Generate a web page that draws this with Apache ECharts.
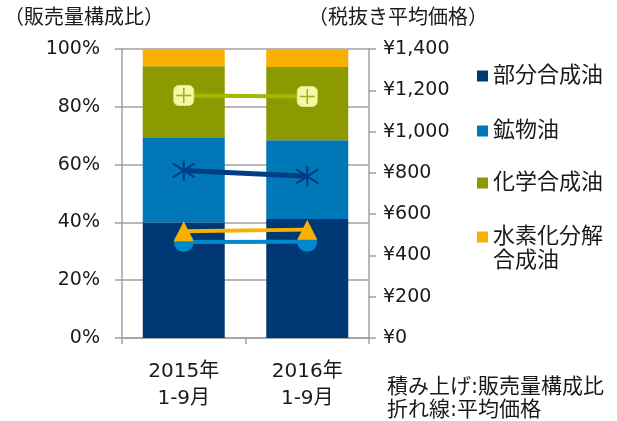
<!DOCTYPE html>
<html>
<head>
<meta charset="utf-8">
<script src="https://cdn.jsdelivr.net/npm/echarts@6/dist/echarts.min.js"></script>
<style>
html,body{margin:0;padding:0;background:#fff;}
#chart{width:617px;height:421px;}
</style>
</head>
<body>
<div id="chart"></div>
<script>
// ---- data ----
const categories = ['2015年\n1-9月', '2016年\n1-9月'];
const seriesNames = ['部分合成油', '鉱物油', '化学合成油', '水素化分解合成油'];
// stacked share (%)
const shareSemiSynthetic = [40.0, 41.2];
const shareMineral = [29.2, 27.2];
const shareSynthetic = [24.8, 25.4];
const shareHydrocracked = [6.0, 6.2];
// average price excl. tax (yen)
const priceSynthetic = [1175, 1170];
const priceSemiSynthetic = [812, 783];
const priceHydrocracked = [517, 525];
const priceMineral = [465, 466];
// tick labels
const leftTicks = [0, 20, 40, 60, 80, 100];
const rightTicks = [0, 200, 400, 600, 800, 1000, 1200, 1400];
const titleLeft = '（販売量構成比）';
const titleRight = '（税抜き平均価格）';
const noteText = '積み上げ:販売量構成比\n折れ線:平均価格';

const FONT = "'DejaVu Sans', 'Noto Sans CJK JP', sans-serif";
const TXT = '#1a1a1a';
const AXIS = '#a0a0a0';
const C_NAVY = '#003876', C_BLUE = '#0077b6', C_OLIVE = '#8c9a00', C_ORANGE = '#f8b100';

function yen(v) { return '¥' + String(v).replace(/\B(?=(\d{3})+(?!\d))/g, ','); }

const chart = echarts.init(document.getElementById('chart'), null, {renderer: 'canvas'});

const legendTops = [64, 119, 171, 201];
const legendColors = [C_NAVY, C_BLUE, C_OLIVE, C_ORANGE];
const legends = seriesNames.map((n, i) => ({
  data: [n], left: 477, top: legendTops[i], orient: 'vertical', padding: 0,
  itemWidth: 11, itemHeight: 11, itemGap: 0, icon: 'rect', selectedMode: false,
  formatter: name => name === '水素化分解合成油' ? '\n水素化分解\n合成油' : name,
  textStyle: {fontFamily: FONT, fontSize: 22, color: TXT, lineHeight: 24}
}));

const barShares = [shareSemiSynthetic, shareMineral, shareSynthetic, shareHydrocracked];
const barSeries = seriesNames.map((n, i) => ({
  name: n, type: 'bar', stack: 'share', yAxisIndex: 0, barWidth: 82,
  itemStyle: {color: legendColors[i]}, data: barShares[i], z: 1
}));

const option = {
  animation: false,
  textStyle: {fontFamily: FONT},
  legend: legends,
  grid: {left: 122, right: 248, top: 49, height: 289},
  xAxis: {
    type: 'category', data: categories,
    axisLine: {lineStyle: {color: AXIS, width: 1.5}},
    axisTick: {show: true, length: 6, interval: 0, lineStyle: {color: AXIS, width: 1.5}},
    axisLabel: {fontFamily: FONT, fontSize: 20, color: TXT, lineHeight: 27, margin: 20, interval: 0}
  },
  yAxis: [
    {
      type: 'value', min: leftTicks[0], max: leftTicks[leftTicks.length - 1], interval: 20, position: 'left',
      axisLine: {show: true, lineStyle: {color: AXIS, width: 1.5}},
      axisTick: {show: true, length: 7, lineStyle: {color: AXIS, width: 1.5}},
      splitLine: {show: true, lineStyle: {color: AXIS, width: 1.5}},
      axisLabel: {fontFamily: FONT, fontSize: 19, color: TXT, margin: 22, formatter: '{value}%'}
    },
    {
      type: 'value', min: rightTicks[0], max: rightTicks[rightTicks.length - 1], interval: 200, position: 'right',
      axisLine: {show: true, lineStyle: {color: AXIS, width: 1.5}},
      axisTick: {show: true, length: 7, lineStyle: {color: AXIS, width: 1.5}},
      splitLine: {show: false},
      axisLabel: {fontFamily: FONT, fontSize: 19, color: TXT, margin: 14, formatter: v => yen(v)}
    }
  ],
  series: barSeries.concat([
    {
      name: '鉱物油価格', type: 'line', yAxisIndex: 1, data: priceMineral, z: 3,
      symbol: 'circle', symbolSize: 20,
      lineStyle: {color: '#0088cc', width: 4}, itemStyle: {color: '#0088cc'}
    },
    {
      name: '水素化分解合成油価格', type: 'line', yAxisIndex: 1, data: priceHydrocracked, z: 4,
      symbol: 'triangle', symbolSize: 20,
      lineStyle: {color: C_ORANGE, width: 4}, itemStyle: {color: C_ORANGE}
    },
    {
      name: '部分合成油価格', type: 'line', yAxisIndex: 1, data: priceSemiSynthetic, z: 4,
      symbol: 'path://M10,0L10,20M0,3L20,17M0,17L20,3', symbolSize: [22, 20],
      lineStyle: {color: '#003d85', width: 5},
      itemStyle: {color: 'rgba(0,0,0,0)', borderColor: '#003d85', borderWidth: 2}
    },
    {
      name: '化学合成油価格', type: 'line', yAxisIndex: 1, data: priceSynthetic, z: 4,
      symbol: 'roundRect', symbolSize: 20,
      lineStyle: {color: '#a8b600', width: 4},
      itemStyle: {color: '#f6f8a8', borderColor: '#dfe58a', borderWidth: 1}
    },
    {
      name: '化学合成油価格マーカー', type: 'scatter', yAxisIndex: 1, data: priceSynthetic, z: 5,
      symbol: 'path://M9,0L11,0L11,9L20,9L20,11L11,11L11,20L9,20L9,11L0,11L0,9L9,9Z', symbolSize: 15,
      itemStyle: {color: '#8c9a00'}
    }
  ]),
  graphic: [
    {type: 'text', left: 4, top: 9, style: {text: titleLeft, font: '20px ' + FONT, fill: TXT}},
    {type: 'text', left: 308, top: 9, style: {text: titleRight, font: '20px ' + FONT, fill: TXT}},
    {type: 'text', left: 387, top: 376, style: {text: noteText, font: '21px ' + FONT, fill: TXT, lineHeight: 23}}
  ]
};
chart.setOption(option);
</script>
</body>
</html>
